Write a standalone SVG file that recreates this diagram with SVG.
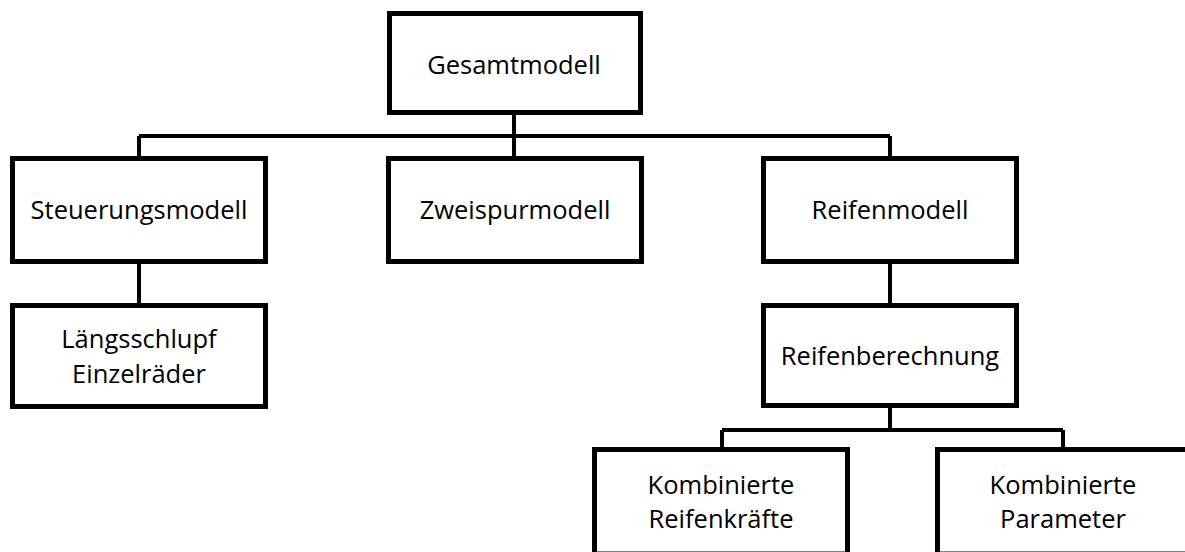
<svg xmlns="http://www.w3.org/2000/svg" width="1185" height="552" viewBox="0 0 1185 552">
  <style>
    .box { fill: #ffffff; stroke: #000000; stroke-width: 5; }
    .lbl { font-family: "Open Sans", "Noto Sans", "DejaVu Sans", sans-serif; font-size: 25.5px; fill: #000000; text-anchor: middle; }
    .wire { fill: none; stroke: #000000; stroke-width: 4; }
  </style>
  <rect width="1185" height="552" fill="#ffffff"/>

  <g id="connectors">
    <path class="wire" d="M514 113 V136 M139 136 H890 M139 136 V158 M514 136 V158 M890 136 V158"/>
    <path class="wire" d="M139 262 V305"/>
    <path class="wire" d="M890 262 V305"/>
    <path class="wire" d="M890 406 V430 M722 430 H1063 M722 430 V449 M1063 430 V449"/>
  </g>

  <g id="gesamtmodell">
    <rect class="box" x="389.5" y="13.5" width="251" height="99"/>
    <text class="lbl" x="514" y="74">Gesamtmodell</text>
  </g>
  <g id="steuerungsmodell">
    <rect class="box" x="12.5" y="158.5" width="253" height="103"/>
    <text class="lbl" x="139" y="219">Steuerungsmodell</text>
  </g>
  <g id="zweispurmodell">
    <rect class="box" x="388.5" y="158.5" width="253" height="103"/>
    <text class="lbl" x="515" y="219">Zweispurmodell</text>
  </g>
  <g id="reifenmodell">
    <rect class="box" x="763.5" y="158.5" width="253" height="103"/>
    <text class="lbl" x="890" y="219">Reifenmodell</text>
  </g>
  <g id="laengsschlupf">
    <rect class="box" x="12.5" y="305.5" width="253" height="101"/>
    <text class="lbl" x="139" y="348">Längsschlupf</text>
    <text class="lbl" x="139" y="383">Einzelräder</text>
  </g>
  <g id="reifenberechnung">
    <rect class="box" x="763.5" y="305.5" width="253" height="100"/>
    <text class="lbl" x="890" y="365">Reifenberechnung</text>
  </g>
  <g id="reifenkraefte">
    <rect class="box" x="594.5" y="449.5" width="253" height="104.5"/>
    <text class="lbl" x="721" y="494">Kombinierte</text>
    <text class="lbl" x="721" y="528">Reifenkräfte</text>
  </g>
  <g id="parameter">
    <rect class="box" x="937.5" y="449.5" width="253" height="104.5"/>
    <text class="lbl" x="1063" y="494">Kombinierte</text>
    <text class="lbl" x="1063" y="528">Parameter</text>
  </g>
</svg>
